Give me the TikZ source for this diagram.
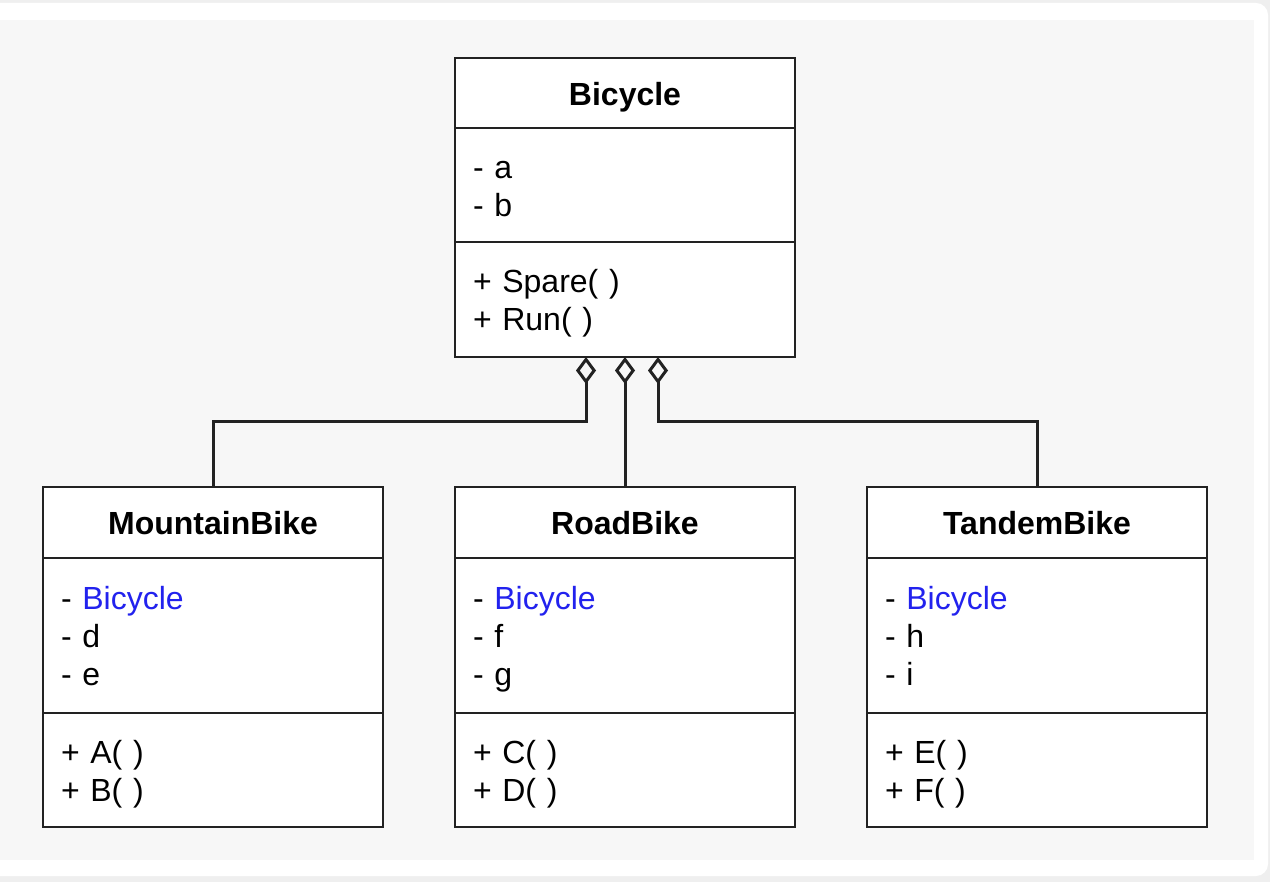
\documentclass[tikz,border=0pt]{standalone}
\usepackage{fontspec}
\setmainfont{Liberation Sans}
\usetikzlibrary{arrows.meta}
\definecolor{frame}{HTML}{EFEFEF}
\definecolor{panel}{HTML}{F7F7F7}
\definecolor{ink}{HTML}{222222}
\definecolor{link}{RGB}{34,34,238}
\newcommand{\parentref}{\textcolor{link}{Bicycle}}
\tikzset{
  part/.style={draw=ink, line width=1.6pt, fill=white, text=black,
    inner xsep=18pt, inner ysep=0pt, outer sep=0pt, text width=304pt,
    align=left, anchor=north west, font=\fontsize{32}{38}\selectfont,
    execute at begin node=\rule{0pt}{36pt}, execute at end node=\strut},
  head/.style={part, align=center, font=\fontsize{32}{38}\selectfont\bfseries},
  aggr/.style={draw=ink, line width=3pt,
    {Diamond[open, length=27pt, width=20pt]}-}
}
\begin{document}
\begin{tikzpicture}[x=1pt, y=-1pt]
\useasboundingbox (0,0) rectangle (1270,882);

\scope % card and panel
\fill[frame] (0,0) rectangle (1270,882);
\fill[white, rounded corners=12pt] (-20,3) rectangle (1268,876);
\fill[panel] (0,20) rectangle (1254,860);
\endscope

% parent class
\node[head, minimum height=70pt] (bikehead) at (455,58) {Bicycle};
\node[part, minimum height=114pt] (bikeattr) at (bikehead.south west) {- a\\- b};
\node[part, minimum height=115pt] (bikemeth) at (bikeattr.south west) {+ Spare( )\\+ Run( )};

% subclasses
\node[head, minimum height=71pt] (mtnhead) at (43,487) {MountainBike};
\node[part, minimum height=155pt] (mtnattr) at (mtnhead.south west) {- \parentref\\- d\\- e};
\node[part, minimum height=114pt] (mtnmeth) at (mtnattr.south west) {+ A( )\\+ B( )};

\node[head, minimum height=71pt] (roadhead) at (455,487) {RoadBike};
\node[part, minimum height=155pt] (roadattr) at (roadhead.south west) {- \parentref\\- f\\- g};
\node[part, minimum height=114pt] (roadmeth) at (roadattr.south west) {+ C( )\\+ D( )};

\node[head, minimum height=71pt] (tandhead) at (867,487) {TandemBike};
\node[part, minimum height=155pt] (tandattr) at (tandhead.south west) {- \parentref\\- h\\- i};
\node[part, minimum height=114pt] (tandmeth) at (tandattr.south west) {+ E( )\\+ F( )};

% aggregation links
\coordinate (kneeL) at (586,422);
\coordinate (kneeR) at (658,422);
\draw[aggr] (kneeL |- bikemeth.south) -- (kneeL) -| (mtnhead.north);
\draw[aggr] (bikemeth.south) -- (roadhead.north);
\draw[aggr] (kneeR |- bikemeth.south) -- (kneeR) -| (tandhead.north);
\end{tikzpicture}
\end{document}
